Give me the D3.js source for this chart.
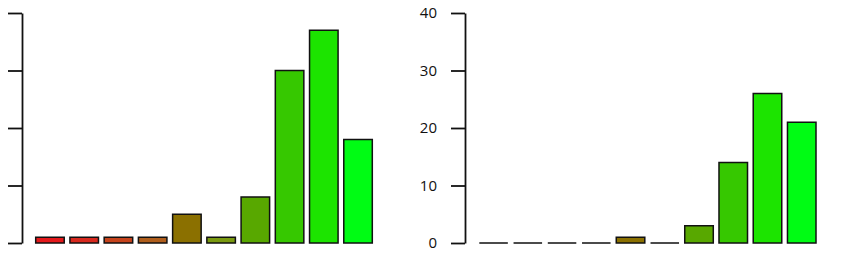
<!DOCTYPE html>
<html>
<head>
<meta charset="utf-8">
<script src="https://cdn.jsdelivr.net/npm/d3@7"></script>
<style>
  body { margin: 0; background: #fff; }
  svg { display: block; }
</style>
</head>
<body>
<div id="chart"></div>
<script>
// ten categories, same colours in both panels
const categories = d3.range(1, 11);
const barColors = ['#e4191b', '#d8291e', '#c6431c', '#b05e1c', '#8b7000',
                   '#7a9a10', '#58a800', '#36c800', '#1ce400', '#00fc14'];
const leftValues = [1, 1, 1, 1, 5, 1, 8, 30, 37, 18];
const rightValues = [0, 0, 0, 0, 1, 0, 3, 14, 26, 21];
const yTicks = [0, 10, 20, 30, 40];

const width = 850;
const height = 263;

const svg = d3.select('#chart')
  .append('svg')
  .attr('width', width)
  .attr('height', height);

const scaleY = d3.scaleLinear()
  .domain([0, 40])
  .range([243, 13]);

function drawPanel(values, axisX, barStart, barEnd, showLabels) {
  const g = svg.append('g');

  // R style barplot: width 1, space 0.2, first bar starts after a gap
  const scaleX = d3.scaleBand()
    .domain(categories)
    .range([barStart, barEnd])
    .paddingInner(1 / 6)
    .paddingOuter(1 / 12)
    .align(1);

  // paths so that zero bars still show as a flat line
  g.selectAll('.bar')
    .data(values)
    .enter()
    .append('path')
    .attr('class', 'bar')
    .attr('d', (d, i) => {
      const x = scaleX(categories[i]);
      const w = scaleX.bandwidth();
      const y = scaleY(d);
      const h = scaleY(0) - y;
      return 'M' + x + ',' + y + 'h' + w + 'v' + h + 'h' + (-w) + 'Z';
    })
    .attr('fill', (d, i) => barColors[i])
    .attr('stroke', '#111')
    .attr('stroke-width', 1.5);

  const yAxis = d3.axisLeft(scaleY)
    .tickValues(yTicks)
    .tickSize(14)
    .tickSizeOuter(0)
    .tickPadding(14)
    .tickFormat(showLabels ? d3.format('d') : '');

  const axis = g.append('g')
    .attr('transform', 'translate(' + axisX + ',0)')
    .call(yAxis);

  axis.select('.domain').attr('stroke', '#111').attr('stroke-width', 1.8);
  axis.selectAll('.tick line').attr('stroke', '#111').attr('stroke-width', 1.8);
  axis.selectAll('.tick text')
    .attr('fill', '#111')
    .attr('font-family', 'Open Sans, sans-serif')
    .attr('font-size', '15px');
}

drawPanel(leftValues, 22, 30, 372.3, false);
drawPanel(rightValues, 465, 473.6, 816, true);
</script>
</body>
</html>
